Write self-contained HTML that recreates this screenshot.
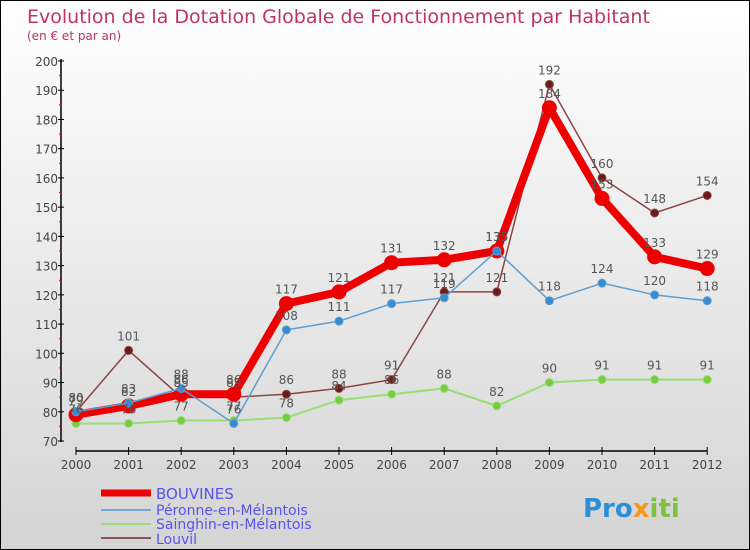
<!DOCTYPE html>
<html><head><meta charset="utf-8"><style>
body{margin:0;}
#c{width:748px;height:548px;border:1px solid #000;background:linear-gradient(#fff,#d4d4d4);position:relative;overflow:hidden;font-family:"DejaVu Sans","Liberation Sans",sans-serif;}
</style></head><body>
<div id="c">
<svg id="s" width="748" height="548" xmlns="http://www.w3.org/2000/svg">
<text x="26" y="22" font-size="19" fill="#c0345f">Evolution de la Dotation Globale de Fonctionnement par Habitant</text>
<text x="26" y="39" font-size="12" fill="#c0345f">(en € et par an)</text>
<g id="axes"></g><g id="series"></g><g id="labels"></g>
<g>
<line x1="100" y1="492" x2="150" y2="492" stroke="#e00" stroke-width="7"/>
<text x="155" y="498" font-size="15" fill="#5555ee">BOUVINES</text>
<line x1="100" y1="509" x2="150" y2="509" stroke="#6fa8d8" stroke-width="2"/>
<text x="155" y="514" font-size="14" fill="#5555ee">Péronne-en-Mélantois</text>
<line x1="100" y1="523" x2="150" y2="523" stroke="#99dd77" stroke-width="2"/>
<text x="155" y="528" font-size="14" fill="#5555ee">Sainghin-en-Mélantois</text>
<line x1="100" y1="537" x2="150" y2="537" stroke="#8b5555" stroke-width="2"/>
<text x="155" y="543" font-size="14" fill="#5555ee">Louvil</text>
</g>
<text x="582" y="516" font-size="26" font-weight="bold"><tspan fill="#2a8fd8">Pro</tspan><tspan fill="#f39a1a">x</tspan><tspan fill="#7cc242">iti</tspan></text>
</svg></div>
<script>
const years=[2000,2001,2002,2003,2004,2005,2006,2007,2008,2009,2010,2011,2012];
const yTicks=[70,80,90,100,110,120,130,140,150,160,170,180,190,200];
const bouvines=[79,82,86,86,117,121,131,132,135,184,153,133,129];
const peronne=[80,83,88,76,108,111,117,119,135,118,124,120,118];
const sainghin=[76,76,77,77,78,84,86,88,82,90,91,91,91];
const louvil=[80,101,85,85,86,88,91,121,121,192,160,148,154];
const NS="http://www.w3.org/2000/svg";
const X=i=>75+i*52.6, Y=v=>440-(v-70)*380/130;
function mk(t,a,p){const e=document.createElementNS(NS,t);for(const k in a)e.setAttribute(k,a[k]);p.appendChild(e);return e;}
const ax=document.getElementById('axes'),sg=document.getElementById('series'),lg=document.getElementById('labels');
let e=mk('line',{x1:60,y1:58,x2:60,y2:441,stroke:'#000','stroke-width':1.5},ax);

e=mk('line',{x1:X(0),y1:450,x2:X(12),y2:450,stroke:'#000','stroke-width':1.5},ax);

yTicks.forEach((v,i)=>{mk('line',{x1:57,y1:Y(v),x2:63,y2:Y(v),stroke:'#000'},ax);
 if(i<yTicks.length-1)mk('line',{x1:58,y1:Y(v+5),x2:61,y2:Y(v+5),stroke:'#e00'},ax);
 const t=mk('text',{x:57,y:Y(v)+5,'font-size':12,fill:'#444','text-anchor':'end'},ax);t.textContent=v;
 });
years.forEach((y,i)=>{mk('line',{x1:X(i),y1:446,x2:X(i),y2:454,stroke:'#000'},ax);
 const t=mk('text',{x:X(i),y:468,'font-size':12,fill:'#444','text-anchor':'middle'},ax);t.textContent=y;
 });
function draw(d,col,w,r,name,dot,above){
 const p=mk('polyline',{points:d.map((v,i)=>X(i)+','+Y(v)).join(' '),fill:'none',stroke:col,'stroke-width':w,'stroke-linejoin':'round'},sg);
 
 d.forEach((v,i)=>{const c=mk('circle',{cx:X(i),cy:Y(v),r:r,fill:dot,stroke:col,'stroke-width':1},sg);
  
  const t=mk('text',{x:X(i),y:above?Y(v)-10:Y(v)+19,'font-size':12,fill:'#555','text-anchor':'middle'},lg);t.textContent=v;
  });
}
draw(sainghin,'#99dd77',2,4,'sainghin','#77cc44',true);
draw(louvil,'#8b4545',1.5,4,'louvil','#6b1a1a',true);
draw(bouvines,'#ee0000',8,7,'bouvines','#ee0000',true);
draw(peronne,'#5b9fd4',1.5,4,'peronne','#3a8ad0',true);
</script>
</body></html>
